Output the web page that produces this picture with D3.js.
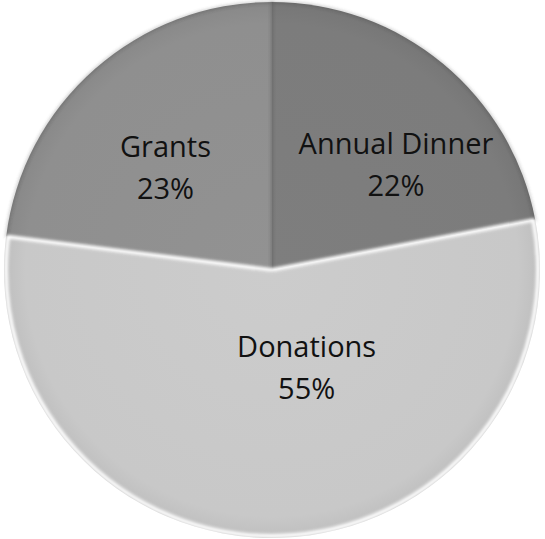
<!DOCTYPE html>
<html>
<head>
<meta charset="utf-8">
<script src="https://cdn.jsdelivr.net/npm/d3@7"></script>
<style>
  html, body { margin:0; padding:0; background:#fff; }
  #canvas { width:545px; height:539px; }
  text { font-family: "Open Sans", "Noto Sans", sans-serif; fill:#111; }
</style>
</head>
<body>
<div id="canvas" class="canvas"></div>
<script>
// data
var categories = ['Annual Dinner', 'Donations', 'Grants'];
var shares = [22, 55, 23];
var pctLabels = ['22%', '55%', '23%'];

var fills = ['#7c7c7c', '#c8c8c8', '#8f8f8f'];
// label nudges from the arc centroid (px)
var nudge = [[30, 5], [30, -53], [-9, 5]];

var W = 545, H = 539;
var cx = 272, cy = 270, r = 268;

var svg = d3.select('.canvas')
    .append('svg')
    .attr('width', W)
    .attr('height', H);

var defs = svg.append('defs');

// soft bevel shading per slice (coords are in the translated group)
fills.forEach(function(c, i){
    var g = defs.append('radialGradient')
        .attr('id', 'grad' + i)
        .attr('gradientUnits', 'userSpaceOnUse')
        .attr('cx', 0).attr('cy', 0).attr('r', r);
    var base = d3.color(c);
    g.append('stop').attr('offset', '0%').attr('stop-color', base.brighter(0.05));
    g.append('stop').attr('offset', '92%').attr('stop-color', base);
    g.append('stop').attr('offset', '98%').attr('stop-color', base.darker(0.1));
    g.append('stop').attr('offset', '100%').attr('stop-color', base.darker(0.3));
});

var blur = defs.append('filter').attr('id', 'soft')
    .attr('x', '-10%').attr('y', '-10%').attr('width', '120%').attr('height', '120%');
blur.append('feGaussianBlur').attr('stdDeviation', 1.6);

var plot = svg.append('g')
    .attr('transform', 'translate(' + cx + ',' + cy + ')');

var rows = categories.map(function(c, i){
    return {name:c, value:shares[i], pct:pctLabels[i], i:i};
});

var pie = d3.pie()
    .sort(null)
    .value(function(d){ return d.value; });

var arcs = pie(rows);

var arc = d3.arc().innerRadius(0).outerRadius(r);
var labelArc = d3.arc().innerRadius(r * 0.55).outerRadius(r * 0.55);

// slices
plot.selectAll('.slice')
    .data(arcs)
    .enter()
    .append('path')
    .attr('class', 'slice')
    .attr('d', arc)
    .attr('fill', function(d){ return 'url(#grad' + d.data.i + ')'; });

// dark shade on the radial edges of the upper slices
plot.selectAll('.edge')
    .data(arcs.filter(function(d){ return d.data.i !== 1; }))
    .enter()
    .append('path')
    .attr('class', 'edge')
    .attr('d', arc)
    .attr('fill', 'none')
    .attr('stroke', '#555')
    .attr('stroke-opacity', 0.35)
    .attr('stroke-width', 2)
    .attr('filter', 'url(#soft)');

// white highlight around the big slice
plot.selectAll('.hilite')
    .data(arcs.filter(function(d){ return d.data.i === 1; }))
    .enter()
    .append('path')
    .attr('class', 'hilite')
    .attr('d', d3.arc().innerRadius(0).outerRadius(r - 2))
    .attr('fill', 'none')
    .attr('stroke', '#fff')
    .attr('stroke-width', 4)
    .attr('stroke-linejoin', 'round')
    .attr('filter', 'url(#soft)');

// labels
var labels = plot.selectAll('.label')
    .data(arcs)
    .enter()
    .append('text')
    .attr('class', 'label')
    .attr('text-anchor', 'middle')
    .attr('transform', function(d){
        var c = labelArc.centroid(d), n = nudge[d.data.i];
        return 'translate(' + (c[0] + n[0]) + ',' + (c[1] + n[1]) + ')';
    })
    .style('font-size', '29px');

labels.append('tspan')
    .attr('x', 0).attr('dy', '-0.25em')
    .text(function(d){ return d.data.name; });
labels.append('tspan')
    .attr('x', 0).attr('dy', '1.45em')
    .text(function(d){ return d.data.pct; });
</script>
</body>
</html>
